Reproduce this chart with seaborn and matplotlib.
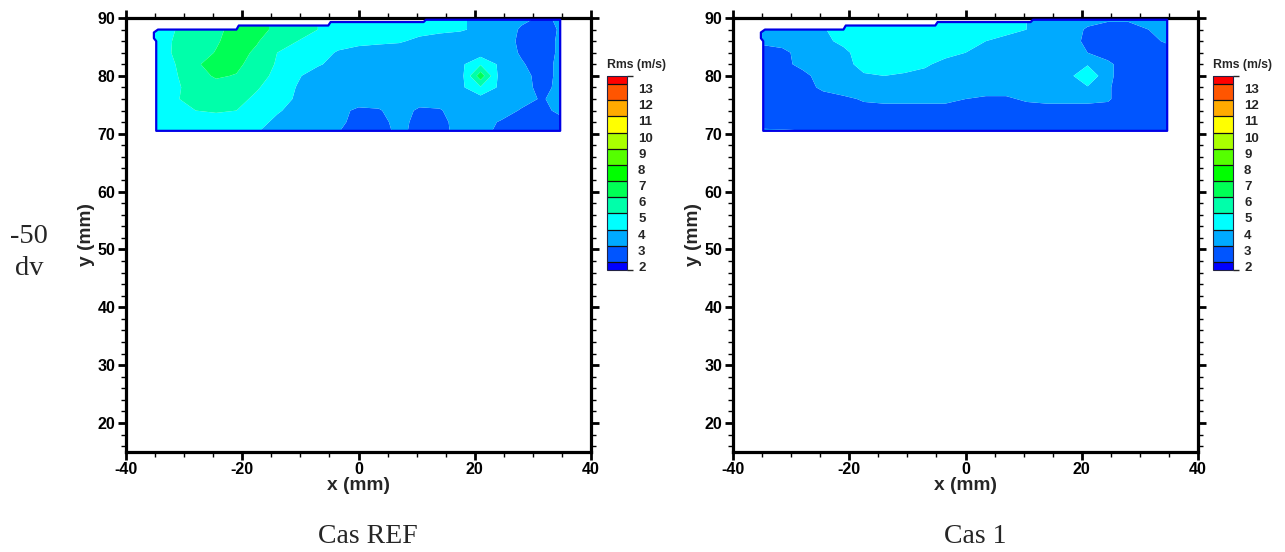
import numpy as np
import matplotlib
matplotlib.use("Agg")
import matplotlib.pyplot as plt
import seaborn as sns
from matplotlib.colors import ListedColormap, BoundaryNorm
from matplotlib.cm import ScalarMappable
from matplotlib.patches import Polygon
from matplotlib.ticker import MultipleLocator, FixedLocator

# ---------------- data ----------------
x_mm = [-35, -31.5, -28, -24.5, -21, -17.5, -14, -10.5, -7, -3.5, 0,
        3.5, 7, 10.5, 14, 17.5, 21, 24.5, 28, 31.5, 35]
y_mm = [70, 72, 74, 76, 78, 80, 82, 84, 86, 88, 90]

# Rms (m/s), one row per y value (bottom -> top)
rms_ref = [
    [4.5, 4.5, 4.5, 4.5, 4.3, 4.0, 3.6, 3.5, 3.3, 3.0, 2.6, 2.6, 3.2, 2.7, 2.7, 3.3, 3.2, 2.8, 2.8, 2.6, 2.8],
    [4.5, 4.5, 4.6, 4.6, 4.5, 4.3, 3.8, 3.5, 3.5, 3.2, 2.7, 2.7, 3.3, 2.7, 2.7, 3.4, 3.4, 2.9, 2.7, 2.6, 2.8],
    [4.5, 4.7, 5.0, 5.1, 5.0, 4.6, 4.1, 3.7, 3.5, 3.3, 2.8, 2.9, 3.5, 2.8, 2.9, 3.6, 3.6, 3.5, 2.9, 2.8, 3.2],
    [4.5, 4.9, 5.4, 5.5, 5.3, 4.8, 4.3, 3.9, 3.6, 3.5, 3.5, 3.5, 3.6, 3.5, 3.5, 3.5, 3.6, 3.5, 3.4, 2.9, 3.4],
    [4.6, 4.8, 5.5, 5.7, 5.6, 5.1, 4.5, 3.95, 3.6, 3.5, 3.5, 3.5, 3.5, 3.5, 3.5, 3.75, 4.9, 3.75, 3.4, 2.7, 3.3],
    [4.8, 4.9, 5.7, 6.1, 5.95, 5.3, 4.8, 4.1, 3.6, 3.5, 3.5, 3.5, 3.5, 3.5, 3.5, 3.5, 6.6, 3.5, 3.4, 2.6, 3.3],
    [4.9, 5.0, 5.9, 6.3, 6.2, 5.6, 4.9, 4.5, 4.1, 3.7, 3.5, 3.5, 3.5, 3.5, 3.5, 3.75, 4.9, 3.75, 3.1, 2.6, 3.3],
    [4.6, 5.1, 5.6, 6.05, 6.4, 5.8, 5.0, 4.6, 4.4, 3.9, 3.6, 3.5, 3.5, 3.5, 3.5, 3.5, 3.5, 3.5, 2.9, 2.6, 3.2],
    [4.5, 5.1, 5.4, 5.9, 6.4, 6.1, 5.3, 5.0, 4.7, 4.4, 4.3, 4.2, 4.1, 3.8, 3.6, 3.5, 3.5, 3.5, 2.8, 2.6, 3.2],
    [4.5, 5.0, 5.4, 5.8, 6.3, 6.3, 5.8, 5.3, 5.0, 4.6, 4.5, 4.5, 4.4, 4.3, 4.2, 4.1, 3.8, 3.5, 2.9, 2.7, 3.1],
    [4.5, 5.0, 5.4, 5.8, 6.3, 6.3, 5.8, 5.3, 5.0, 4.6, 4.5, 4.5, 4.4, 4.3, 4.2, 4.1, 3.8, 3.5, 3.2, 2.9, 3.1],
]
rms_cas1 = [
    [3.3, 3.3, 3.2, 2.8, 2.6, 2.5, 2.5, 2.5, 2.5, 2.5, 2.5, 2.5, 2.5, 2.5, 2.6, 3.1, 2.8, 2.5, 2.5, 2.6, 3.2],
    [2.6, 2.5, 2.5, 2.5, 2.5, 2.5, 2.5, 2.5, 2.5, 2.5, 2.5, 2.5, 2.5, 2.5, 2.5, 2.5, 2.5, 2.5, 2.5, 2.5, 2.6],
    [2.5, 2.5, 2.5, 2.5, 2.6, 2.7, 2.7, 2.7, 2.7, 2.7, 2.6, 2.6, 2.6, 2.7, 2.7, 2.7, 2.7, 2.7, 2.5, 2.5, 2.5],
    [2.5, 2.5, 2.5, 2.6, 2.8, 3.1, 3.2, 3.2, 3.2, 3.2, 3.0, 2.9, 2.9, 3.1, 3.2, 3.2, 3.2, 3.1, 2.5, 2.5, 2.5],
    [2.5, 2.5, 2.6, 3.2, 3.5, 3.5, 3.5, 3.5, 3.5, 3.5, 3.4, 3.3, 3.3, 3.4, 3.5, 3.6, 3.9, 3.1, 2.5, 2.5, 2.5],
    [2.5, 2.6, 2.8, 3.3, 3.6, 3.9, 4.0, 3.9, 3.8, 3.7, 3.6, 3.5, 3.5, 3.5, 3.5, 3.6, 4.9, 3.2, 2.5, 2.5, 2.5],
    [2.5, 2.8, 3.2, 3.5, 3.7, 4.3, 4.5, 4.3, 4.1, 3.8, 3.7, 3.6, 3.5, 3.5, 3.5, 3.7, 3.9, 3.2, 2.5, 2.5, 2.5],
    [2.6, 2.8, 3.3, 3.5, 3.8, 4.4, 4.6, 4.5, 4.4, 4.2, 4.0, 3.8, 3.6, 3.5, 3.5, 3.3, 3.0, 2.6, 2.5, 2.5, 2.5],
    [3.2, 3.3, 3.5, 3.8, 4.2, 4.6, 4.7, 4.6, 4.5, 4.4, 4.2, 4.0, 3.8, 3.6, 3.5, 3.2, 2.9, 2.6, 2.6, 2.7, 3.2],
    [3.4, 3.5, 3.6, 3.9, 4.5, 4.7, 4.8, 4.7, 4.6, 4.6, 4.5, 4.4, 4.2, 4.0, 3.7, 3.4, 2.9, 2.6, 2.6, 3.0, 3.4],
    [3.4, 3.5, 3.6, 3.9, 4.5, 4.7, 4.8, 4.7, 4.6, 4.6, 4.5, 4.4, 4.2, 4.0, 3.7, 3.5, 3.3, 3.2, 3.2, 3.3, 3.5],
]

# measurement domain outline (mm)
domain_x = [-34.8, 34.7, 34.7, 11.6, 11.2, -4.8, -5.2, -20.6, -21.0, -34.5, -35.2, -35.2, -34.8]
domain_y = [70.5, 70.5, 89.7, 89.7, 89.3, 89.3, 88.7, 88.7, 88.0, 88.0, 87.5, 86.5, 86.0]

levels = [2, 3, 4, 5, 6, 7, 8, 9, 10, 11, 12, 13]
band_colors = ["#0000ff", "#0055ff", "#00aaff", "#00ffff", "#00ffaa", "#00ff55",
               "#00ff00", "#55ff00", "#aaff00", "#ffff00", "#ffaa00", "#ff5500", "#ff0000"]
panel_titles = ["Cas REF", "Cas 1"]
row_label = ["-50", "dv"]
cbar_title = "Rms (m/s)"
x_label = "x (mm)"
y_label = "y (mm)"
x_ticks = [-40, -20, 0, 20, 40]
y_ticks = [20, 30, 40, 50, 60, 70, 80, 90]

# ---------------- style ----------------
sns.set_theme(style="white")
plt.rcParams["font.family"] = ["Liberation Sans", "DejaVu Sans"]
plt.rcParams["axes.unicode_minus"] = False

W, H = 1285, 552
fig = plt.figure(figsize=(W / 100, H / 100), dpi=100)
fig.patch.set_facecolor("white")

cmap = ListedColormap(band_colors)
fill_levels = [0] + levels + [20]
fill_norm = BoundaryNorm(fill_levels, len(band_colors))
cb_bounds = [1.5] + levels + [13.5]
cb_norm = BoundaryNorm(cb_bounds, len(band_colors))

X, Y = np.meshgrid(np.array(x_mm), np.array(y_mm))

panel_left_px = [126, 733]
cbar_left_px = [607, 1213]
title_center_px = [368, 975]
fields = [rms_ref, rms_cas1]
serif = ["Liberation Serif", "DejaVu Serif"]

for k in range(2):
    l = panel_left_px[k]
    ax = fig.add_axes([l / W, 1 - 452 / H, 465 / W, 434 / H])
    Z = np.array(fields[k])
    cs = ax.contourf(X, Y, Z, levels=fill_levels, cmap=cmap, norm=fill_norm, antialiased=True)
    poly = Polygon(np.column_stack([domain_x, domain_y]), closed=True,
                   facecolor="none", edgecolor="#0000e6", lw=1.6, zorder=3,
                   joinstyle="round")
    ax.add_patch(poly)
    cs.set_clip_path(poly)

    ax.set_xlim(-40, 40)
    ax.set_ylim(15, 90)
    ax.xaxis.set_major_locator(FixedLocator(x_ticks))
    ax.xaxis.set_minor_locator(MultipleLocator(5))
    ax.yaxis.set_major_locator(FixedLocator(y_ticks))
    ax.yaxis.set_minor_locator(MultipleLocator(2))
    for s in ax.spines.values():
        s.set_linewidth(2.3)
        s.set_color("black")
        s.set_visible(True)
    ax.tick_params(which="both", direction="out", top=True, right=True,
                   bottom=True, left=True, color="black")
    ax.tick_params(which="major", length=6, width=2.0, pad=1.5,
                   labelsize=11.5, labelcolor="black")
    ax.tick_params(which="minor", length=3.5, width=1.0)
    for t in ax.get_xticklabels() + ax.get_yticklabels():
        t.set_fontweight("bold")
    ax.set_xlabel(x_label, fontsize=13.8, fontweight="bold", labelpad=0)
    ax.set_ylabel(y_label, fontsize=13.8, fontweight="bold", labelpad=2)

    # colorbar
    cl = cbar_left_px[k]
    cax = fig.add_axes([cl / W, 1 - 270 / H, 20 / W, 194 / H])
    sm = ScalarMappable(norm=cb_norm, cmap=cmap)
    cb = fig.colorbar(sm, cax=cax, ticks=levels, spacing="proportional", drawedges=True)
    cb.outline.set_linewidth(0.8)
    cb.outline.set_edgecolor("#222244")
    cb.dividers.set_color("#111111")
    cb.dividers.set_linewidth(0.9)
    cax.tick_params(length=0, pad=8, labelsize=9.5)
    for t in cax.get_yticklabels():
        t.set_fontweight("bold")
        t.set_verticalalignment("top")
    fig.text(cl / W, 1 - 68 / H, cbar_title, ha="left", va="baseline",
             fontsize=8.8, fontweight="bold")

    fig.text(title_center_px[k] / W, 1 - 543 / H, panel_titles[k], ha="center",
             va="baseline", fontsize=20, family=serif)

fig.text(29 / W, 1 - 243 / H, row_label[0], ha="center", va="baseline",
         fontsize=20.5, family=serif)
fig.text(29 / W, 1 - 275 / H, row_label[1], ha="center", va="baseline",
         fontsize=20.5, family=serif)

fig.savefig("out.png", dpi=100, facecolor="white")
